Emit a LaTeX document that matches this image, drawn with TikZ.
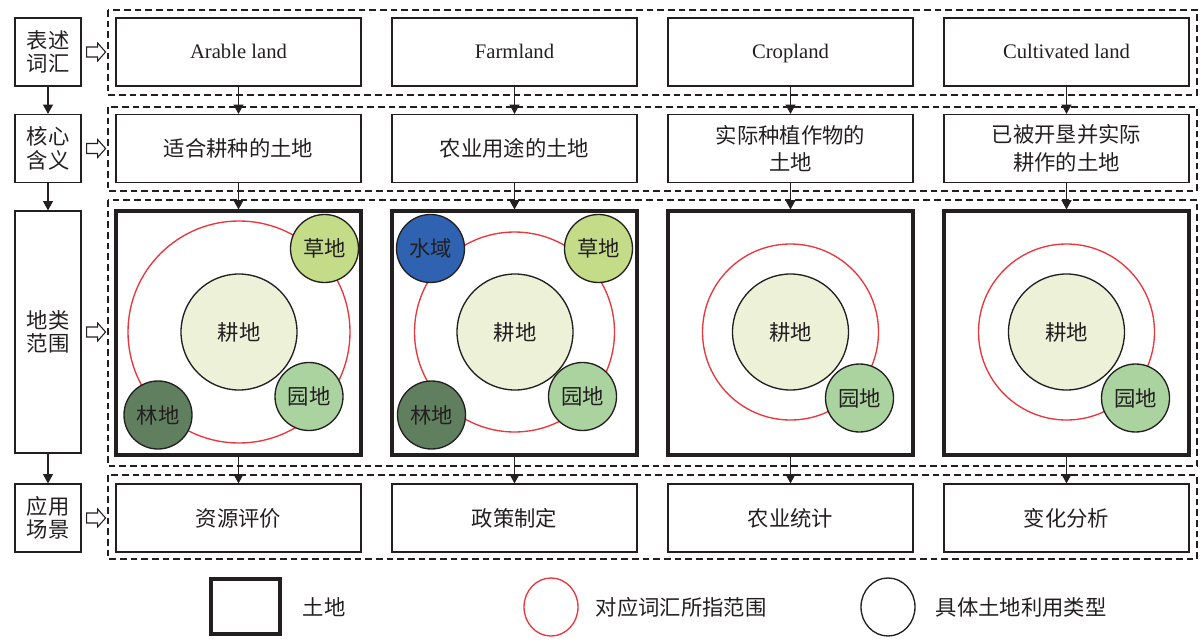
\documentclass[tikz,border=0pt]{standalone}
\usepackage{fontspec}
\setmainfont{Liberation Serif}
\newfontfamily\cjk{Noto Sans CJK SC}
\usepackage{xcolor}
\usepackage{tikz}
\usetikzlibrary{arrows.meta,calc}
\definecolor{ink}{RGB}{35,31,32}
\definecolor{rangered}{RGB}{232,54,60}
\definecolor{gengdi}{RGB}{236,241,216}
\definecolor{caodi}{RGB}{196,220,136}
\definecolor{yuandi}{RGB}{170,211,160}
\definecolor{lindi}{RGB}{95,127,94}
\definecolor{shuiyu}{RGB}{47,99,177}
% open block arrow from a row label to its dashed frame
\newcommand{\openarr}[1]{\draw[hollow] ($(#1.east)+(5,-5)$) -- ++(11,0) -- ++(0,-4) -- ++(8,9) -- ++(-8,9) -- ++(0,-4) -- ++(-11,0) -- cycle;}

\begin{document}
\begin{tikzpicture}[x=0.75pt,y=-0.75pt,>={Triangle[length=7pt,width=7.5pt]},
 zh/.style={font=\cjk\fontsize{16}{20.5}\selectfont,text=ink},
 en/.style={font=\fontsize{15.5}{18}\selectfont,text=ink,text height=11.5pt,text depth=1.5pt},
 lab/.style={zh,draw=ink,line width=0.9pt,minimum width=49.5pt,minimum height=51pt,align=center,inner sep=1pt,font=\cjk\fontsize{16}{17.5}\selectfont},
 box/.style={draw=ink,line width=0.9pt,minimum width=183.75pt,minimum height=51pt,align=center,inner sep=2pt},
 land/.style={draw=ink,line width=2.3pt,minimum width=183.75pt,minimum height=183pt},
 rowframe/.style={draw=ink,line width=0.8pt,dash pattern=on 5pt off 3pt},
 wordring/.style={circle,draw=rangered,line width=1pt,inner sep=0pt},
 core/.style={zh,circle,draw=ink,line width=1pt,fill=gengdi,minimum size=87pt,inner sep=0pt},
 patch/.style={zh,circle,draw=ink,line width=1pt,minimum size=51pt,inner sep=0pt},
 hollow/.style={draw=ink,line width=0.8pt,fill=white},
 link/.style={->,draw=ink,line width=0.8pt}]
\useasboundingbox (0,0) rectangle (1203,642);

% dashed row frames
\draw[rowframe] (108,10) rectangle (1197,95);
\draw[rowframe] (108,107) rectangle (1197,191);
\draw[rowframe] (108,200) rectangle (1197,466);
\draw[rowframe] (108,475) rectangle (1197,559);

% row labels
\node[lab] (lab1) at (48,52) {表述\\词汇};
\node[lab] (lab2) at (48,148.5) {核心\\含义};
\node[lab,minimum height=181.5pt] (lab3) at (48,332) {地类\\范围};
\node[lab] (lab4) at (48,518) {应用\\场景};
\draw[link] (lab1)--(lab2);
\draw[link] (lab2)--(lab3);
\draw[link] (lab3)--(lab4);
\openarr{lab1}
\openarr{lab2}
\openarr{lab3}
\openarr{lab4}

% terms
\node[box,en] (t1) at (238.5,52) {Arable land};
\node[box,en] (t2) at (514.5,52) {Farmland};
\node[box,en] (t3) at (790.5,52) {Cropland};
\node[box,en] (t4) at (1066.5,52) {Cultivated land};

% meanings
\node[box,zh] (m1) at (238.5,148.5) {适合耕种的土地};
\node[box,zh] (m2) at (514.5,148.5) {农业用途的土地};
\node[box,zh] (m3) at (790.5,148.5) {实际种植作物的\\土地};
\node[box,zh] (m4) at (1066.5,148.5) {已被开垦并实际\\耕作的土地};

% land scopes
\node[land] (s1) at (238.5,333) {};
\node[land] (s2) at (514.5,333) {};
\node[land] (s3) at (790.5,333) {};
\node[land] (s4) at (1066.5,333) {};

\node[wordring,minimum size=166.5pt] (r1) at (239,332) {};
\node[core] (g1) at (239,332) {耕地};
\node[patch,fill=caodi] (cd1) at (324.5,248.5) {草地};
\node[patch,fill=yuandi] (yd1) at (309,396.5) {园地};
\node[patch,fill=lindi] (ld1) at (158,415) {林地};

\node[wordring,minimum size=150pt] (r2) at (514.5,332) {};
\node[core] (g2) at (515,332) {耕地};
\node[patch,fill=shuiyu] (sy2) at (430.5,248.5) {水域};
\node[patch,fill=caodi] (cd2) at (598.5,248.5) {草地};
\node[patch,fill=yuandi] (yd2) at (582.5,396.5) {园地};
\node[patch,fill=lindi] (ld2) at (431.5,415) {林地};

\node[wordring,minimum size=132pt] (r3) at (790.5,332) {};
\node[core] (g3) at (790.5,332) {耕地};
\node[patch,fill=yuandi] (yd3) at (859.5,398) {园地};

\node[wordring,minimum size=132pt] (r4) at (1066.5,332) {};
\node[core] (g4) at (1066.5,332) {耕地};
\node[patch,fill=yuandi] (yd4) at (1135.5,398) {园地};

% applications
\node[box,zh] (a1) at (238.5,518) {资源评价};
\node[box,zh] (a2) at (514.5,518) {政策制定};
\node[box,zh] (a3) at (790.5,518) {农业统计};
\node[box,zh] (a4) at (1066.5,518) {变化分析};

\draw[link] (t1)--(m1);
\draw[link] (t2)--(m2);
\draw[link] (t3)--(m3);
\draw[link] (t4)--(m4);
\draw[link] (m1)--(s1);
\draw[link] (m2)--(s2);
\draw[link] (m3)--(s3);
\draw[link] (m4)--(s4);
\draw[link] (s1)--(a1);
\draw[link] (s2)--(a2);
\draw[link] (s3)--(a3);
\draw[link] (s4)--(a4);

% legend
\node[draw=ink,line width=2.4pt,minimum width=51.75pt,minimum height=41.25pt] (kland) at (245.5,606.5) {};
\node[zh,anchor=west] (kland-t) at (298,607) {土地};
\draw[rangered,line width=1pt] (551,607) ellipse [x radius=27,y radius=29];
\coordinate (krange) at (551,607);
\node[zh,anchor=west] (krange-t) at (591,607) {对应词汇所指范围};
\draw[ink,line width=1pt] (888,607) ellipse [x radius=27,y radius=29];
\coordinate (ktype) at (888,607);
\node[zh,anchor=west] (ktype-t) at (931,607) {具体土地利用类型};
\end{tikzpicture}
\end{document}
